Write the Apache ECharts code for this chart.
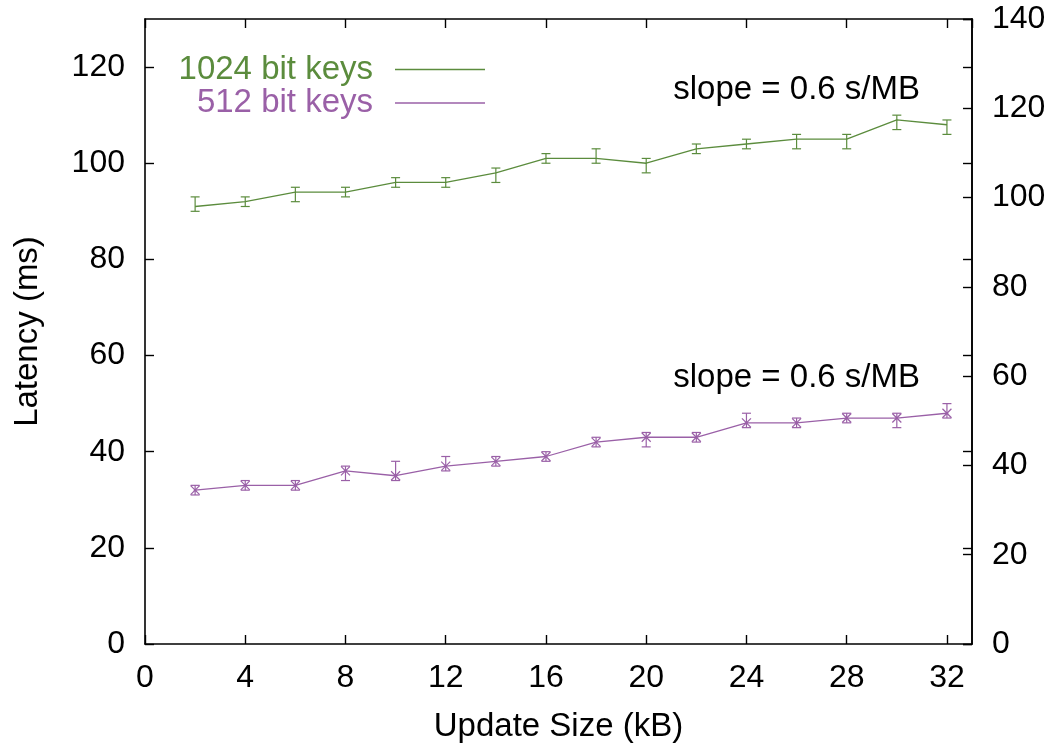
<!DOCTYPE html>
<html>
<head>
<meta charset="utf-8">
<script src="https://cdn.jsdelivr.net/npm/echarts@6/dist/echarts.min.js"></script>
<style>
  html, body { margin: 0; padding: 0; background: #ffffff; }
  #chart { width: 1051px; height: 748px; }
</style>
</head>
<body>
<div id="chart"></div>
<script>
// Update sizes in kB
const updateSizes = [2, 4, 6, 8, 10, 12, 14, 16, 18, 20, 22, 24, 26, 28, 30, 32];

// 1024-bit keys: mean latency (ms) and error-bar bounds
const keys1024Mean = [91, 92, 94, 94, 96, 96, 98, 101, 101, 100, 103, 104, 105, 105, 109, 108];
const keys1024Low  = [90, 91, 92, 93, 95, 95, 96, 100, 100, 98, 102, 103, 103, 103, 107, 106];
const keys1024High = [93, 93, 95, 95, 97, 97, 99, 102, 103, 101, 104, 105, 106, 106, 110, 109];

// 512-bit keys: mean latency (ms) and error-bar bounds
const keys512Mean = [32, 33, 33, 36, 35, 37, 38, 39, 42, 43, 43, 46, 46, 47, 47, 48];
const keys512Low  = [31, 32, 32, 34, 34, 36, 37, 38, 41, 41, 42, 45, 45, 46, 45, 47];
const keys512High = [33, 34, 34, 37, 38, 39, 39, 40, 43, 44, 44, 48, 47, 48, 48, 50];

const seriesNames = ['1024 bit keys', '512 bit keys'];
const slopeNote = 'slope = 0.6 s/MB';

const GREEN = '#5b8c3d';
const PURPLE = '#9a60a7';
const FONT = '"Liberation Sans", Arial, Helvetica, sans-serif';
const FS = 32;   // tick labels
const FS_T = 33; // names, legend, notes

const linePoints = (ys) => updateSizes.map((x, i) => [x, ys[i]]);
const barPoints = (lo, hi, mid) => updateSizes.map((x, i) => [x, lo[i], hi[i], mid[i]]);

// Vertical error bar with caps; optional "x" point marker at the mean
function errorBar(withCross) {
  return function (params, api) {
    const x = api.value(0);
    const pLo = api.coord([x, api.value(1)]);
    const pHi = api.coord([x, api.value(2)]);
    const pMid = api.coord([x, api.value(3)]);
    const c = 4.5;
    const style = { stroke: api.visual('color'), lineWidth: 1.2, fill: null };
    const children = [
      { type: 'line', shape: { x1: pLo[0], y1: pLo[1], x2: pHi[0], y2: pHi[1] }, style },
      { type: 'line', shape: { x1: pLo[0] - c, y1: pLo[1], x2: pLo[0] + c, y2: pLo[1] }, style },
      { type: 'line', shape: { x1: pHi[0] - c, y1: pHi[1], x2: pHi[0] + c, y2: pHi[1] }, style }
    ];
    if (withCross) {
      children.push(
        { type: 'line', shape: { x1: pMid[0] - c, y1: pMid[1] - c, x2: pMid[0] + c, y2: pMid[1] + c }, style },
        { type: 'line', shape: { x1: pMid[0] - c, y1: pMid[1] + c, x2: pMid[0] + c, y2: pMid[1] - c }, style },
        { type: 'circle', shape: { cx: pMid[0], cy: pMid[1], r: 1.3 }, style: { fill: api.visual('color') } }
      );
    }
    return { type: 'group', children };
  };
}

const axisLine = { show: true, onZero: false, lineStyle: { color: '#000', width: 1.6 } };
const tickIn = { show: true, inside: true, length: 9, lineStyle: { color: '#000', width: 1.4 } };
const labelFont = { fontFamily: FONT, fontSize: FS, color: '#000' };
const nameFont = { fontFamily: FONT, fontSize: FS_T, color: '#000' };

const chart = echarts.init(document.getElementById('chart'), null, { renderer: 'canvas' });

chart.setOption({
  animation: false,
  backgroundColor: '#ffffff',
  textStyle: { fontFamily: FONT },
  grid: { left: 145, right: 79, top: 19, bottom: 104, containLabel: false },
  legend: {
    orient: 'vertical',
    right: 566,
    top: 53,
    padding: 0,
    align: 'right',
    icon: 'rect',
    itemWidth: 90,
    itemHeight: 1.3,
    itemGap: 0.5,
    selectedMode: false,
    textStyle: { fontFamily: FONT, fontSize: FS_T, padding: [0, 17, 0, 0] },
    data: [
      { name: seriesNames[0], textStyle: { color: GREEN } },
      { name: seriesNames[1], textStyle: { color: PURPLE } }
    ]
  },
  xAxis: [
    {
      type: 'value', position: 'bottom', min: 0, max: 33, interval: 4,
      name: 'Update Size (kB)', nameLocation: 'middle', nameGap: 66,
      nameTextStyle: nameFont,
      axisLine, axisTick: tickIn, splitLine: { show: false },
      axisLabel: Object.assign({ margin: 18, showMaxLabel: false }, labelFont)
    },
    {
      type: 'value', position: 'top', min: 0, max: 33, interval: 4,
      axisLine, axisTick: tickIn, splitLine: { show: false },
      axisLabel: { show: false }
    }
  ],
  yAxis: [
    {
      type: 'value', position: 'left', min: 0, max: 130, interval: 20,
      name: 'Latency (ms)', nameLocation: 'middle', nameGap: 101,
      nameTextStyle: nameFont,
      axisLine, axisTick: tickIn, splitLine: { show: false },
      axisLabel: Object.assign({ margin: 20, showMaxLabel: false }, labelFont)
    },
    {
      type: 'value', position: 'right', offset: 0, min: 0, max: 140, interval: 20,
      axisLine, axisTick: tickIn, splitLine: { show: false },
      axisLabel: Object.assign({ margin: 20 }, labelFont)
    },
    {
      type: 'value', position: 'right', offset: 0, min: 0, max: 130, interval: 20,
      axisLine, axisTick: tickIn, splitLine: { show: false },
      axisLabel: { show: false }
    }
  ],
  series: [
    {
      name: seriesNames[0], type: 'line', xAxisIndex: 0, yAxisIndex: 0,
      data: linePoints(keys1024Mean), symbol: 'none',
      color: GREEN, lineStyle: { color: GREEN, width: 1.3 }, z: 3
    },
    {
      name: seriesNames[1], type: 'line', xAxisIndex: 0, yAxisIndex: 0,
      data: linePoints(keys512Mean), symbol: 'none',
      color: PURPLE, lineStyle: { color: PURPLE, width: 1.3 }, z: 3
    },
    {
      name: seriesNames[0] + ' (error)', type: 'custom', xAxisIndex: 0, yAxisIndex: 0,
      data: barPoints(keys1024Low, keys1024High, keys1024Mean),
      encode: { x: 0, y: [1, 2, 3] },
      itemStyle: { color: GREEN },
      renderItem: errorBar(false), z: 4
    },
    {
      name: seriesNames[1] + ' (error)', type: 'custom', xAxisIndex: 0, yAxisIndex: 0,
      data: barPoints(keys512Low, keys512High, keys512Mean),
      encode: { x: 0, y: [1, 2, 3] },
      itemStyle: { color: PURPLE },
      renderItem: errorBar(true), z: 4
    }
  ],
  graphic: [
    {
      type: 'text', x: 920, y: 90,
      style: { text: slopeNote, align: 'right', verticalAlign: 'middle', font: FS_T + 'px ' + FONT, fill: '#000' }
    },
    {
      type: 'text', x: 920, y: 378,
      style: { text: slopeNote, align: 'right', verticalAlign: 'middle', font: FS_T + 'px ' + FONT, fill: '#000' }
    }
  ]
});
</script>
</body>
</html>
